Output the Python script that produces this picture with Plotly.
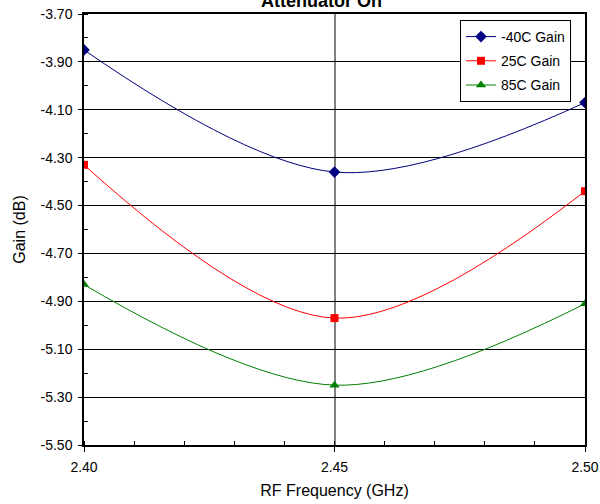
import plotly.graph_objects as go

# Data
freq_ghz = [2.40, 2.45, 2.50]
gain_m40c = [-3.85, -4.36, -4.07]
gain_25c = [-4.33, -4.97, -4.44]
gain_85c = [-4.83, -5.25, -4.91]

x_tick_vals = [2.40, 2.45, 2.50]
x_tick_labels = ["2.40", "2.45", "2.50"]
y_tick_vals = [-3.70, -3.90, -4.10, -4.30, -4.50, -4.70, -4.90, -5.10, -5.30, -5.50]
y_tick_labels = ["-3.70", "-3.90", "-4.10", "-4.30", "-4.50",
                 "-4.70", "-4.90", "-5.10", "-5.30", "-5.50"]

series = [
    ("-40C Gain", gain_m40c, "#000080", "diamond", 9),
    ("25C Gain", gain_25c, "#FF0000", "square", 8),
    ("85C Gain", gain_85c, "#008000", "triangle-up", 9),
]

FONT = "Liberation Sans, Arial, sans-serif"

W, H = 600, 504
ML, MR, MT, MB = 84, 15, 14, 59
PW, PH = W - ML - MR, H - MT - MB

fig = go.Figure()

for name, vals, color, symbol, size in series:
    fig.add_trace(go.Scatter(
        x=freq_ghz,
        y=vals,
        name=name,
        legendgroup=name,
        mode="lines+markers",
        line=dict(color=color, width=1, shape="spline", smoothing=1),
        marker=dict(color=color, symbol=symbol, size=size),
    ))

# title sits partly above the page edge, as in the reference
fig.add_annotation(
    text="<b>Attenuator On</b>",
    xref="paper", yref="paper",
    x=(321 - ML) / PW, y=1 + 1 / PH,
    xanchor="center", yanchor="bottom",
    showarrow=False,
    font=dict(size=18, color="black", family=FONT),
)

fig.update_layout(
    width=W,
    height=H,
    xaxis=dict(
        range=[2.40, 2.50],
        tickmode="array", tickvals=x_tick_vals, ticktext=x_tick_labels,
        ticks="outside", ticklen=5, tickcolor="black", ticklabelstandoff=3,
        showline=True, linecolor="black", linewidth=1.5, mirror=True,
        showgrid=True, gridcolor="#808080", gridwidth=2,
        zeroline=False, automargin=False,
        minor=dict(dtick=0.01, tick0=2.40, ticks="inside", ticklen=4, tickcolor="black", showgrid=False),
        tickfont=dict(size=14, color="black", family=FONT),
        title=dict(text="RF Frequency (GHz)", font=dict(size=16, color="black", family=FONT), standoff=11),
    ),
    yaxis=dict(
        range=[-5.50, -3.70],
        tickmode="array", tickvals=y_tick_vals, ticktext=y_tick_labels,
        ticks="outside", ticklen=4, tickcolor="black", ticklabelstandoff=3,
        showline=True, linecolor="black", linewidth=1.5, mirror=True,
        showgrid=True, gridcolor="black", gridwidth=1,
        zeroline=False, automargin=False,
        minor=dict(dtick=0.1, tick0=-3.70, ticks="inside", ticklen=4, tickcolor="black", showgrid=False),
        tickfont=dict(size=14, color="black", family=FONT),
        title=dict(text="Gain (dB)", font=dict(size=16, color="black", family=FONT), standoff=11),
    ),
    legend=dict(
        x=(460 - ML) / PW, y=1 - (20 - MT) / PH, xanchor="left", yanchor="top",
        bgcolor="white", bordercolor="black", borderwidth=1,
        font=dict(size=14, color="black", family=FONT),
        traceorder="grouped", tracegroupgap=3,
    ),
    paper_bgcolor="white",
    plot_bgcolor="white",
    margin=dict(l=ML, r=MR, t=MT, b=MB, autoexpand=False),
    font=dict(family=FONT),
)

# drop the browser's default 8px body margin so the figure sits at the page origin
fig.write_html(
    "out.html",
    config={"displayModeBar": False},
    post_script="document.body.style.margin = '0';",
)
